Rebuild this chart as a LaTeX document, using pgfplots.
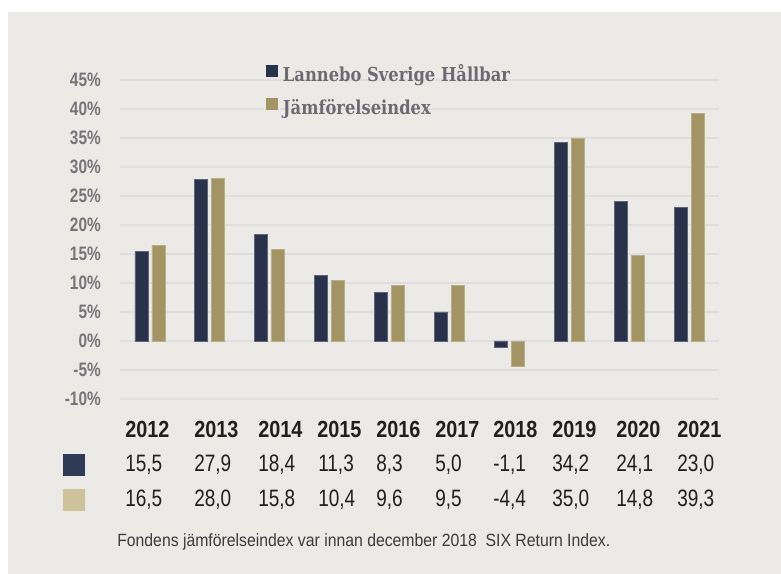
\documentclass[border=0pt]{standalone}
\usepackage{pgfplots}
\usepackage{pgfplotstable}
\pgfplotsset{compat=1.18}
\usepackage{fontspec}
\setmainfont{Liberation Sans}
\newfontfamily\tickfont{Liberation Sans}[FakeStretch=0.79]
\newfontfamily\yearfont{Liberation Sans}[FakeStretch=0.85]
\newfontfamily\valfont{Liberation Sans}[FakeStretch=0.8]
\newfontfamily\notefont{Liberation Sans}[FakeStretch=0.89]
\newfontfamily\legfont{DejaVu Serif}[FakeStretch=0.85]

\definecolor{bg}{HTML}{ECEAE7}
\definecolor{navy}{HTML}{28324A}
\definecolor{khaki}{HTML}{A39464}
\definecolor{gridc}{HTML}{DFDDDE}
\definecolor{tickc}{HTML}{77757A}
\definecolor{legc}{HTML}{6D6A72}
\definecolor{txt}{HTML}{231F20}
\definecolor{notec}{HTML}{3C3B3D}
\definecolor{sqnavy}{HTML}{2F3A57}
\definecolor{sqbeige}{HTML}{CDC29A}

\pgfplotstableread{
x a b
0 15.5 16.5
1 27.9 28.0
2 18.4 15.8
3 11.3 10.4
4 8.3 9.6
5 5.0 9.5
6 -1.1 -4.4
7 34.2 35.0
8 24.1 14.8
9 23.0 39.3
}\data

\begin{document}
\begin{tikzpicture}
\useasboundingbox (0,0) rectangle (585.75pt,430.5pt);
\fill[white] (0,0) rectangle (585.75pt,430.5pt);
\fill[bg] (6pt,0pt) rectangle (585.75pt,421.5pt);

\begin{axis}[
  at={(90pt,131.25pt)}, anchor=south west,
  scale only axis, width=449.25pt, height=239.25pt,
  xmin=-0.5, xmax=9.5, ymin=-10, ymax=45,
  axis line style={draw=none},
  xtick=\empty,
  ytick={-10,-5,0,5,10,15,20,25,30,35,40,45},
  yticklabels={-10\%,-5\%,0\%,5\%,10\%,15\%,20\%,25\%,30\%,35\%,40\%,45\%},
  major tick length=0pt,
  ymajorgrids, grid style={gridc, line width=1.1pt},
  yticklabel style={font=\tickfont\bfseries\fontsize{14.6}{16}\selectfont, text=tickc, anchor=east, inner sep=0pt, xshift=-14.25pt},
  ybar=3pt, bar width=9.75pt,
  clip=false,
  legend image code/.code={\path[#1,draw=none] (0pt,0pt) rectangle (9pt,9pt);},
  legend cell align=left,
  legend style={at={(0.2437,1.048)}, anchor=north west, draw=none, fill=none,
    inner sep=0pt, outer sep=0pt, row sep=9.5pt,
    font=\legfont\bfseries\fontsize{14.4}{16}\selectfont, text=legc,
    nodes={inner sep=0pt, text height=10pt, text depth=3pt},
    /tikz/every odd column/.style={column sep=3.75pt}},
]
\addplot[fill=navy, draw=navy!75!white, line width=0.6pt] table[x=x, y=a] {\data};
\addplot[fill=khaki, draw=khaki!75!white, line width=0.6pt] table[x=x, y=b] {\data};
\legend{Lannebo Sverige Hållbar, Jämförelseindex}
\end{axis}

\foreach \x/\y in {125/2012,194/2013,258/2014,317/2015,376/2016,435/2017,493/2018,552/2019,616/2020,677/2021}
  \node[anchor=base west, inner sep=0pt, text=txt, font=\yearfont\bfseries\fontsize{17.5}{20}\selectfont] at (\x*0.75pt,102.5pt) {\y};
\foreach \x/\a/\b in {125/{15,5}/{16,5},194/{27,9}/{28,0},258/{18,4}/{15,8},318/{11,3}/{10,4},376/{8,3}/{9,6},435/{5,0}/{9,5},493/{-1,1}/{-4,4},552/{34,2}/{35,0},616/{24,1}/{14,8},677/{23,0}/{39,3}}
{
  \node[anchor=base west, inner sep=0pt, text=txt, font=\valfont\fontsize{17.8}{20}\selectfont] at (\x*0.75pt,76.7pt) {\a};
  \node[anchor=base west, inner sep=0pt, text=txt, font=\valfont\fontsize{17.8}{20}\selectfont] at (\x*0.75pt,50.25pt) {\b};
}
\fill[sqnavy] (47.25pt,73.5pt) rectangle (63.75pt,90pt);
\fill[sqbeige] (47.25pt,47.25pt) rectangle (63.75pt,63.75pt);
\node[anchor=base west, inner sep=0pt, text=notec, font=\notefont\fontsize{13.3}{15}\selectfont] at (87.75pt,20.5pt) {Fondens jämförelseindex var innan december 2018\ \ SIX Return Index.};
\end{tikzpicture}
\end{document}
